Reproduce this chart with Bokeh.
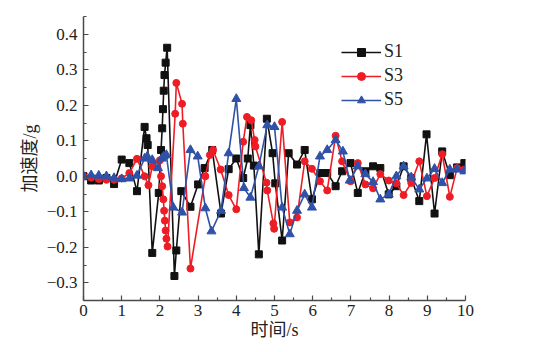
from bokeh.plotting import figure
from bokeh.models import (Range1d, FixedTicker, CustomJSTickFormatter, Legend, LegendItem)
from bokeh.embed import file_html
from bokeh.resources import INLINE

# ---------------- data ----------------
s1_x = [0, 0.2, 0.4, 0.6, 0.8, 1.0, 1.2, 1.4, 1.6, 1.65, 1.68, 1.8, 1.97, 2.03, 2.06, 2.08, 2.1,
        2.12, 2.15, 2.19, 2.38, 2.43, 2.56, 2.8, 3.0, 3.17, 3.37, 3.6, 3.8, 4.0, 4.18, 4.3, 4.37,
        4.46, 4.59, 4.8, 4.95, 5.02, 5.2, 5.37, 5.59, 5.79, 5.98, 6.2, 6.38, 6.6, 6.77, 6.99, 7.18,
        7.38, 7.58, 7.77, 7.99, 8.19, 8.38, 8.58, 8.79, 8.98, 9.19, 9.39, 9.59, 9.78, 9.97]
s1_y = [0.0, -0.012, -0.012, -0.005, -0.022, 0.047, 0.037, -0.042, 0.139, 0.107, 0.088, -0.216,
        -0.047, 0.074, 0.135, 0.189, 0.241, 0.285, 0.32, 0.362, -0.281, -0.209, -0.042, -0.086,
        -0.023, 0.023, 0.074, -0.105, 0.02, 0.05, -0.005, 0.05, 0.144, 0.03, -0.22, 0.162, 0.065,
        -0.02, -0.181, 0.065, 0.033, 0.074, -0.065, 0.009, 0.009, -0.028, 0.014, 0.037, -0.047,
        0.014, 0.028, 0.023, -0.051, -0.028, 0.028, -0.005, -0.07, 0.118, -0.105, 0.07, 0.003,
        0.025, 0.037]

s3_x = [0, 0.2, 0.4, 0.6, 0.8, 1.0, 1.2, 1.4, 1.6, 1.7, 1.8, 2.0, 2.03, 2.06, 2.09, 2.11, 2.13,
        2.15, 2.17, 2.2, 2.4, 2.43, 2.58, 2.6, 2.8, 3.19, 3.31, 3.39, 3.59, 3.8, 4.0, 4.18, 4.28,
        4.39, 4.48, 4.5, 4.79, 4.81, 4.97, 4.99, 5.2, 5.4, 5.59, 5.79, 5.98, 6.19, 6.38, 6.6, 6.77,
        6.99, 7.18, 7.38, 7.58, 7.77, 7.99, 8.19, 8.38, 8.58, 8.79, 8.99, 9.19, 9.39, 9.59, 9.78,
        9.97]
s3_y = [0.0, -0.004, -0.008, -0.01, -0.01, -0.006, 0.009, 0.049, 0.0, -0.025, 0.028, 0.045, 0.0,
        -0.028, -0.065, -0.097, -0.125, -0.153, -0.176, -0.198, 0.176, 0.263, 0.204, 0.148, -0.26,
        0.0, 0.06, 0.074, 0.019, -0.053, -0.093, 0.097, 0.167, 0.158, 0.102, 0.084, -0.018, -0.04,
        -0.133, -0.148, 0.153, -0.13, -0.116, 0.042, 0.021, -0.014, -0.04, 0.114, 0.042, -0.014,
        0.037, -0.023, -0.034, 0.006, -0.012, -0.02, -0.053, -0.019, 0.042, -0.056, -0.005, 0.062,
        -0.058, 0.023, 0.019]

s5_x = [0, 0.2, 0.4, 0.6, 0.8, 1.0, 1.2, 1.4, 1.6, 1.67, 1.8, 1.95, 2.05, 2.1, 2.17, 2.35, 2.58,
        2.8, 2.99, 3.19, 3.35, 3.6, 3.8, 4.0, 4.2, 4.37, 4.59, 4.81, 5.0, 5.2, 5.4, 5.59, 5.79,
        5.98, 6.19, 6.38, 6.6, 6.79, 6.97, 7.18, 7.38, 7.58, 7.77, 7.99, 8.19, 8.38, 8.58, 8.79,
        8.99, 9.19, 9.39, 9.59, 9.78, 9.97]
s5_y = [0.0, 0.003, 0.002, 0.0, -0.005, -0.008, -0.006, 0.002, 0.05, 0.056, 0.046, 0.023, 0.05,
        0.056, 0.06, -0.088, -0.102, 0.074, 0.056, -0.09, -0.155, -0.097, 0.065, 0.218, -0.033,
        -0.06, 0.028, 0.144, 0.139, -0.088, -0.163, -0.097, -0.051, -0.088, 0.056, 0.074, 0.102,
        0.07, -0.012, 0.028, 0.006, -0.016, -0.065, -0.051, 0.0, 0.028, -0.003, -0.037, -0.006,
        0.021, -0.019, 0.019, 0.019, 0.014]

series_labels = ["S1", "S3", "S5"]
x_ticks = [0, 1, 2, 3, 4, 5, 6, 7, 8, 9, 10]
y_ticks = [-0.3, -0.2, -0.1, 0.0, 0.1, 0.2, 0.3, 0.4]
x_label = "时间/s"
y_label = "加速度/g"

# ---------------- styling ----------------
SERIF = "'Liberation Serif', 'Noto Sans CJK SC'"
AXIS_COLOR = "#4a4a4a"
TEXT_COLOR = "#222222"
BLACK = "#111111"
RED = "#ee1d25"
BLUE = "#2f51a8"

p = figure(width=547, height=352, output_backend="svg", toolbar_location=None,
           x_range=Range1d(0, 10), y_range=Range1d(-0.35, 0.45),
           min_border_left=83, min_border_right=82, min_border_top=16, min_border_bottom=52)
p.outline_line_color = None
p.grid.visible = False
p.background_fill_color = "white"
p.border_fill_color = "white"

minor_x = [i * 0.5 for i in range(21) if i % 2 == 1]
minor_y = [round(-0.35 + i * 0.05, 2) for i in range(17)]
p.xaxis.ticker = FixedTicker(ticks=x_ticks, minor_ticks=minor_x)
p.yaxis.ticker = FixedTicker(ticks=y_ticks, minor_ticks=minor_y)
p.yaxis.formatter = CustomJSTickFormatter(
    code="return (tick < -1e-9 ? '\u2212' : '') + Math.abs(tick).toFixed(1);")
p.xaxis.formatter = CustomJSTickFormatter(code="return tick.toFixed(0);")

for ax in (p.xaxis[0], p.yaxis[0]):
    ax.axis_line_color = AXIS_COLOR
    ax.axis_line_width = 1.5
    ax.major_tick_line_color = AXIS_COLOR
    ax.minor_tick_line_color = AXIS_COLOR
    ax.major_tick_line_width = 1.2
    ax.minor_tick_line_width = 1.2
    ax.major_tick_in = 5
    ax.major_tick_out = 0
    ax.minor_tick_in = 3
    ax.minor_tick_out = 0
    ax.major_label_text_font = SERIF
    ax.major_label_text_font_size = "17px"
    ax.major_label_text_color = TEXT_COLOR
    ax.axis_label_text_font = SERIF
    ax.axis_label_text_font_size = "18px"
    ax.axis_label_text_font_style = "normal"
    ax.axis_label_text_color = TEXT_COLOR

p.xaxis.axis_label = x_label
p.yaxis.axis_label = y_label
p.xaxis.major_label_standoff = 4
p.xaxis.axis_label_standoff = 1
p.yaxis.major_label_standoff = 6
p.yaxis.axis_label_standoff = 4

items = []
for xs, ys, col, marker, size, lab in [
        (s1_x, s1_y, BLACK, "square", 7, series_labels[0]),
        (s3_x, s3_y, RED, "circle", 7, series_labels[1]),
        (s5_x, s5_y, BLUE, "triangle", 9, series_labels[2])]:
    ln = p.line(xs, ys, line_color=col, line_width=1.6)
    sc = p.scatter(xs, ys, marker=marker, size=size, fill_color=col, line_color=col)
    items.append(LegendItem(label=lab, renderers=[ln, sc]))

legend = Legend(items=items, location=(258, 190))
legend.glyph_width = 40
legend.glyph_height = 20
legend.spacing = 3
legend.padding = 0
legend.margin = 0
legend.label_standoff = 3
legend.label_text_font = SERIF
legend.label_text_font_size = "18px"
legend.label_text_color = TEXT_COLOR
legend.border_line_alpha = 0
legend.background_fill_alpha = 0
p.add_layout(legend)

open("out.html", "w").write(file_html(p, INLINE))
